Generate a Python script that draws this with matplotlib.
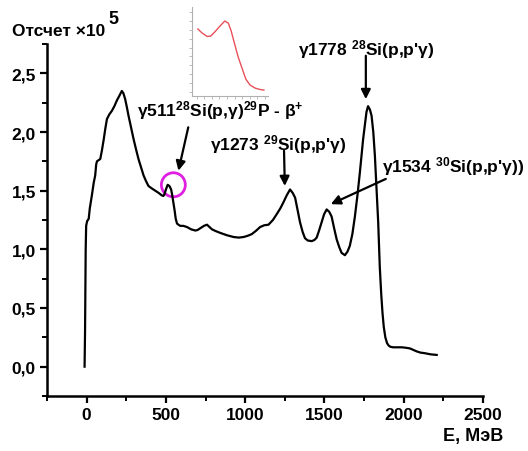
import matplotlib
matplotlib.use("Agg")
import matplotlib.pyplot as plt
from matplotlib.patches import Ellipse
from matplotlib.ticker import MultipleLocator, FuncFormatter

# Спектр: энергия (кэВ) и отсчеты (x10^5)
energy = [-13, -10, -6, -3, 3, 13, 20, 33, 45, 54, 60, 65, 75, 86, 96, 107,
          118, 128, 143, 159, 175, 191, 207, 222, 232, 243, 254, 264, 280,
          296, 312, 327, 343, 359, 375, 390, 410, 432, 455, 474, 484, 491,
          500, 511, 522, 533, 540, 547, 555, 562, 570, 579, 591, 610, 633,
          660, 686, 700, 717, 740, 759, 775, 791, 815, 843, 885, 927, 960,
          990, 1015, 1042, 1070, 1094, 1120, 1147, 1175, 1199, 1222, 1241,
          1262, 1283, 1300, 1315, 1330, 1346, 1362, 1377, 1395, 1420, 1437,
          1451, 1466, 1482, 1498, 1514, 1530, 1545, 1561, 1577, 1593, 1608,
          1629, 1645, 1660, 1676, 1692, 1708, 1723, 1735, 1744, 1755, 1765,
          1775, 1787, 1797, 1808, 1818, 1828, 1839, 1849, 1858, 1866, 1874,
          1884, 1895, 1905, 1915, 1933, 1960, 1990, 2019, 2040, 2057, 2082,
          2105, 2132, 2170, 2208]
counts = [0.0, 0.3, 1.0, 1.20, 1.24, 1.26, 1.35, 1.46, 1.57, 1.63, 1.72,
          1.75, 1.76, 1.77, 1.84, 1.93, 2.03, 2.11, 2.15, 2.18, 2.22, 2.27,
          2.31, 2.35, 2.33, 2.28, 2.21, 2.14, 2.04, 1.94, 1.85, 1.77, 1.70,
          1.63, 1.58, 1.54, 1.52, 1.50, 1.48, 1.46, 1.455, 1.47, 1.51, 1.55,
          1.54, 1.51, 1.46, 1.40, 1.33, 1.26, 1.22, 1.21, 1.20, 1.20, 1.19,
          1.17, 1.16, 1.165, 1.18, 1.20, 1.21, 1.19, 1.17, 1.155, 1.14, 1.12,
          1.105, 1.10, 1.105, 1.115, 1.13, 1.16, 1.19, 1.205, 1.21, 1.25,
          1.30, 1.35, 1.40, 1.46, 1.51, 1.48, 1.44, 1.34, 1.23, 1.15, 1.095,
          1.075, 1.07, 1.08, 1.10, 1.16, 1.23, 1.30, 1.34, 1.32, 1.28, 1.18,
          1.085, 1.02, 0.97, 0.95, 0.98, 1.03, 1.13, 1.28, 1.46, 1.65, 1.82,
          1.94, 2.06, 2.17, 2.22, 2.19, 2.14, 2.00, 1.80, 1.52, 1.23, 0.85,
          0.62, 0.46, 0.34, 0.25, 0.20, 0.18, 0.17, 0.165, 0.165, 0.165, 0.16,
          0.155, 0.145, 0.13, 0.12, 0.115, 0.105, 0.10]

# Вставка: участок около 511 кэВ
inset_energy = [470, 477, 486, 492, 499, 508, 516, 522, 527, 532, 539, 546,
                552, 559, 568, 576, 583]
inset_counts = [1.489, 1.469, 1.451, 1.453, 1.474, 1.504, 1.529, 1.519,
                1.479, 1.423, 1.347, 1.287, 1.236, 1.206, 1.190, 1.183,
                1.180]

x_ticks_major = 500
y_ticks_major = 0.5

plt.rcParams["font.family"] = ["Liberation Sans", "DejaVu Sans"]
plt.rcParams["font.weight"] = "bold"
plt.rcParams["mathtext.fontset"] = "custom"
plt.rcParams["mathtext.rm"] = "Liberation Sans:bold"
plt.rcParams["mathtext.it"] = "Liberation Sans:bold"
plt.rcParams["mathtext.bf"] = "Liberation Sans:bold"

fig = plt.figure(figsize=(5.28, 4.52), dpi=100)
ax = fig.add_axes([47 / 528, 1 - 397 / 452, 436 / 528, 352 / 452])

ax.plot(energy, counts, color="black", lw=1.6, solid_joinstyle="round")

ax.set_xlim(-250, 2500)
ax.set_ylim(-0.25, 2.75)
for side in ("top", "right"):
    ax.spines[side].set_visible(False)
for side in ("left", "bottom"):
    ax.spines[side].set_linewidth(1.8)

ax.xaxis.set_major_locator(MultipleLocator(x_ticks_major))
ax.xaxis.set_minor_locator(MultipleLocator(x_ticks_major / 2))
ax.yaxis.set_major_locator(MultipleLocator(y_ticks_major))
ax.yaxis.set_minor_locator(MultipleLocator(y_ticks_major / 2))
ax.yaxis.set_major_formatter(
    FuncFormatter(lambda v, _: f"{v:.1f}".replace(".", ","))
)
ax.tick_params(which="major", direction="out", length=5, width=1.6,
               labelsize=12.5, pad=3)
ax.tick_params(which="minor", direction="out", length=3.5, width=1.4)
for lbl in ax.get_xticklabels() + ax.get_yticklabels():
    lbl.set_fontweight("bold")

# Подписи осей
fig.text(12 / 528, 1 - 31 / 452, "Отсчет \u00d710", fontsize=12.5,
         fontweight="bold", va="center", ha="left")
fig.text(108 / 528, 1 - 19 / 452, "5", fontsize=13, fontweight="bold",
         va="center", ha="left")
fig.text(503 / 528, 1 - 437 / 452, "E, МэВ", fontsize=13,
         fontweight="bold", va="center", ha="right")

# Подписи линий
labels = [
    (137, 111, "γ511$^{28}$Si(p,γ)$^{29}$P - β$^{+}$"),
    (210, 145, "γ1273 $^{29}$Si(p,p'γ)"),
    (298, 50, "γ1778 $^{28}$Si(p,p'γ)"),
    (382, 167, "γ1534 $^{30}$Si(p,p'γ))"),
]
for px, py, txt in labels:
    fig.text(px / 528, 1 - py / 452, txt, fontsize=12.5, fontweight="bold",
             va="center", ha="left")

arrows = [
    ((641, 2.04), (579, 1.67)),
    ((1245, 1.84), (1250, 1.54)),
    ((1761, 2.65), (1761, 2.28)),
    ((1887, 1.60), (1540, 1.385)),
]
for tail, tip in arrows:
    ax.annotate("", xy=tip, xytext=tail,
                arrowprops=dict(arrowstyle="-|>", color="black", lw=1.6,
                                mutation_scale=14, shrinkA=0, shrinkB=0))

ax.add_patch(Ellipse((547, 1.55), 151, 0.205, fill=False,
                     edgecolor="#e020e0", lw=2))

# Вставка
ins = fig.add_axes([192 / 528, 1 - 97 / 452, 76 / 528, 89 / 452])
ins.plot(inset_energy, inset_counts, color="#e8505a", lw=1.0,
         solid_joinstyle="round")
ins.set_xlim(460, 590)
ins.set_ylim(1.15, 1.60)
for side in ("top", "right"):
    ins.spines[side].set_visible(False)
for side in ("left", "bottom"):
    ins.spines[side].set_color("#b0b0b0")
    ins.spines[side].set_linewidth(0.8)
ins.xaxis.set_major_locator(MultipleLocator(13))
ins.yaxis.set_major_locator(MultipleLocator(0.045))
ins.tick_params(colors="#b0b0b0", length=2.5, width=0.6,
                labelbottom=False, labelleft=False)

fig.savefig("out.png", dpi=100)
